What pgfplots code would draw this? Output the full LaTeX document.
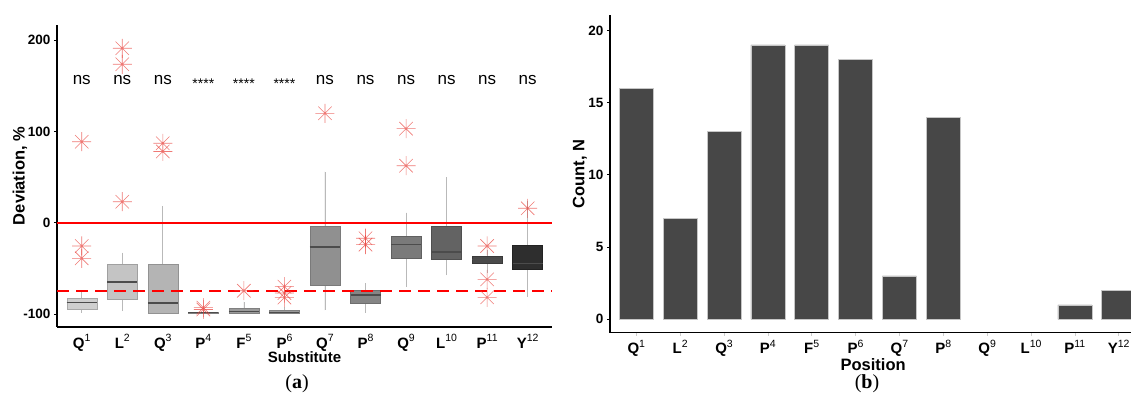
\documentclass[border=0pt]{standalone}
\usepackage{pgfplots}
\pgfplotsset{compat=1.18}
\usepgfplotslibrary{statistics}
\usepackage{fontspec}
\setmainfont{Liberation Sans}
\newfontfamily\capfont{Liberation Serif}

\definecolor{f1}{HTML}{CFCFCF}\definecolor{d1}{HTML}{A8A8A8}
\definecolor{f2}{HTML}{C4C4C4}\definecolor{d2}{HTML}{A0A0A0}
\definecolor{f3}{HTML}{B4B4B4}\definecolor{d3}{HTML}{929292}
\definecolor{f4}{HTML}{9A9A9A}\definecolor{d4}{HTML}{808080}
\definecolor{f7}{HTML}{909090}\definecolor{d7}{HTML}{7A7A7A}
\definecolor{f8}{HTML}{858585}\definecolor{d8}{HTML}{6E6E6E}
\definecolor{f9}{HTML}{7A7A7A}\definecolor{d9}{HTML}{606060}
\definecolor{f10}{HTML}{636363}\definecolor{d10}{HTML}{4F4F4F}
\definecolor{f11}{HTML}{4A4A4A}\definecolor{d11}{HTML}{3A3A3A}
\definecolor{f12}{HTML}{2E2E2E}\definecolor{d12}{HTML}{222222}
\definecolor{barc}{HTML}{474747}
\definecolor{outc}{HTML}{E8403A}

\pgfdeclareplotmark{ast8}{%
\pgfpathmoveto{\pgfqpoint{-\pgfplotmarksize}{0pt}}%
\pgfpathlineto{\pgfqpoint{\pgfplotmarksize}{0pt}}%
\pgfpathmoveto{\pgfqpoint{0pt}{-\pgfplotmarksize}}%
\pgfpathlineto{\pgfqpoint{0pt}{\pgfplotmarksize}}%
\pgfpathmoveto{\pgfqpoint{-.707\pgfplotmarksize}{-.707\pgfplotmarksize}}%
\pgfpathlineto{\pgfqpoint{.707\pgfplotmarksize}{.707\pgfplotmarksize}}%
\pgfpathmoveto{\pgfqpoint{-.707\pgfplotmarksize}{.707\pgfplotmarksize}}%
\pgfpathlineto{\pgfqpoint{.707\pgfplotmarksize}{-.707\pgfplotmarksize}}%
\pgfusepathqstroke}

\newcommand{\lab}[2]{\textbf{#1}\raisebox{0.42em}{\mdseries\fontsize{10.5}{10.5}\selectfont #2}}
\newcommand{\nsfont}{\fontsize{17}{17}\selectfont}
\newcommand{\stfont}{\fontsize{14}{14}\selectfont}

\pgfplotsset{
  common/.style={
    scale only axis, anchor=south west,
    axis x line*=bottom, axis y line*=left,
    axis line style={line width=1.6pt, black},
    tick align=outside,
    major tick length=3pt,
    ytick style={black, line width=0.8pt},
    xtick={1,...,12},
    xticklabels={\lab{Q}{1},\lab{L}{2},\lab{Q}{3},\lab{P}{4},\lab{F}{5},\lab{P}{6},\lab{Q}{7},\lab{P}{8},\lab{Q}{9},\lab{L}{10},\lab{P}{11},\lab{Y}{12}},
    /pgf/number format/assume math mode=true,
    ticklabel style={font=\bfseries\fontsize{13.5}{16}\selectfont},
    xticklabel style={font=\bfseries\fontsize{15}{16}\selectfont, yshift=-1pt},
    ylabel style={font=\bfseries\fontsize{16.5}{18}\selectfont},
  },
  outl/.style={mark=ast8, mark size=9.5pt, mark options={draw=outc, line width=0.6pt, opacity=0.7, solid}},
}

\begin{document}
\begin{tikzpicture}
% ---------------- (a) ----------------
\begin{axis}[common,
  at={(57pt,76pt)}, width=495pt, height=302pt,
  xmin=0.39, xmax=12.6, ymin=-114.2, ymax=216.5,
  ytick={-100,0,100,200},
  xtick style={draw=none},
  xlabel={Substitute}, ylabel={Deviation, \%},
  xlabel style={font=\bfseries\fontsize{15}{16}\selectfont, at={(axis description cs:0.5,-0.1)}, anchor=center},
  ylabel style={at={(axis description cs:-0.075,0.5)}, anchor=center},
  boxplot/draw direction=y,
  boxplot/every whisker/.style={draw=gray!55, line width=0.7pt},
  boxplot/every median/.style={draw=black!70, line width=1.3pt},
]
\addplot[boxplot prepared={lower whisker=-98.6, lower quartile=-94.9, median=-87.5, upper quartile=-82.8, upper whisker=-75.6, draw position=1, box extend=0.74, whisker extend=0}, draw=d1, fill=f1, outl]
  table[row sep=\\, y index=0] {data\\ 88.7\\ -25.5\\ -39\\};
\addplot[boxplot prepared={lower whisker=-96.7, lower quartile=-83.9, median=-65, upper quartile=-45.2, upper whisker=-32.8, draw position=2, box extend=0.74, whisker extend=0}, draw=d2, fill=f2, outl]
  table[row sep=\\, y index=0] {data\\ 191\\ 173.5\\ 23\\};
\addplot[boxplot prepared={lower whisker=-99.5, lower quartile=-99.3, median=-88, upper quartile=-45.2, upper whisker=18.3, draw position=3, box extend=0.74, whisker extend=0}, draw=d3, fill=f3, outl]
  table[row sep=\\, y index=0] {data\\ 87\\ 78\\};
\addplot[boxplot prepared={lower whisker=-99.5, lower quartile=-99.3, median=-98.5, upper quartile=-97.5, upper whisker=-96.5, draw position=4, box extend=0.74, whisker extend=0}, draw=d4, fill=f4, outl]
  table[row sep=\\, y index=0] {data\\ -93\\ -95\\};
\addplot[boxplot prepared={lower whisker=-99.5, lower quartile=-99.3, median=-97.5, upper quartile=-93.8, upper whisker=-86.5, draw position=5, box extend=0.74, whisker extend=0}, draw=d4, fill=f4, outl]
  table[row sep=\\, y index=0] {data\\ -74.5\\};
\addplot[boxplot prepared={lower whisker=-99.5, lower quartile=-99.3, median=-98, upper quartile=-96, upper whisker=-92.7, draw position=6, box extend=0.74, whisker extend=0}, draw=d4, fill=f4, outl]
  table[row sep=\\, y index=0] {data\\ -70\\ -77\\ -82\\};
\addplot[boxplot prepared={lower whisker=-95.6, lower quartile=-67.9, median=-26.6, upper quartile=-3.6, upper whisker=55.9, draw position=7, box extend=0.74, whisker extend=0}, draw=d7, fill=f7, outl]
  table[row sep=\\, y index=0] {data\\ 119.8\\};
\addplot[boxplot prepared={lower whisker=-98.6, lower quartile=-87.6, median=-79.2, upper quartile=-73.7, upper whisker=-66.4, draw position=8, box extend=0.74, whisker extend=0}, draw=d8, fill=f8, outl]
  table[row sep=\\, y index=0] {data\\ -17\\ -24\\};
\addplot[boxplot prepared={lower whisker=-70, lower quartile=-39, median=-23.7, upper quartile=-15.3, upper whisker=11, draw position=9, box extend=0.74, whisker extend=0}, draw=d9, fill=f9, outl]
  table[row sep=\\, y index=0] {data\\ 103\\ 62.4\\};
\addplot[boxplot prepared={lower whisker=-57.3, lower quartile=-40, median=-32, upper quartile=-3.6, upper whisker=49.7, draw position=10, box extend=0.74, whisker extend=0}, draw=d10, fill=f10, outl]
  coordinates {};
\addplot[boxplot prepared={lower whisker=-55, lower quartile=-43.8, median=-40.5, upper quartile=-36.5, upper whisker=-30, draw position=11, box extend=0.74, whisker extend=0}, draw=d11, fill=f11, outl]
  table[row sep=\\, y index=0] {data\\ -25.5\\ -62\\ -81.7\\};
\addplot[boxplot prepared={lower whisker=-81, lower quartile=-50.7, median=-45, upper quartile=-24.4, upper whisker=24, draw position=12, box extend=0.74, whisker extend=0}, draw=d12, fill=f12, outl]
  table[row sep=\\, y index=0] {data\\ 15.8\\};

\addplot[red, line width=1.8pt, forget plot] coordinates {(0.39,0) (12.6,0)};
\addplot[red, line width=2.6pt, dash pattern=on 12pt off 7pt, forget plot] coordinates {(0.39,-75) (12.6,-75)};

\node[font=\nsfont] at (axis cs:1,156) {ns};
\node[font=\nsfont] at (axis cs:2,156) {ns};
\node[font=\nsfont] at (axis cs:3,156) {ns};
\node[font=\stfont] at (axis cs:4,152) {****};
\node[font=\stfont] at (axis cs:5,152) {****};
\node[font=\stfont] at (axis cs:6,152) {****};
\node[font=\nsfont] at (axis cs:7,156) {ns};
\node[font=\nsfont] at (axis cs:8,156) {ns};
\node[font=\nsfont] at (axis cs:9,156) {ns};
\node[font=\nsfont] at (axis cs:10,156) {ns};
\node[font=\nsfont] at (axis cs:11,156) {ns};
\node[font=\nsfont] at (axis cs:12,156) {ns};
\end{axis}

% ---------------- (b) ----------------
\begin{axis}[common,
  at={(610pt,70.3pt)}, width=521pt, height=317.7pt,
  xmin=0.4, xmax=12.28, ymin=-0.93, ymax=21.07,
  ytick={0,5,10,15,20},
  xtick style={draw=gray!40, line width=0.6pt},
  xlabel={Position}, ylabel={Count, N},
  xlabel style={font=\bfseries\fontsize{16.5}{18}\selectfont, at={(axis description cs:0.505,-0.1)}, anchor=center},
  ylabel style={at={(axis description cs:-0.058,0.5)}, anchor=center},
  ybar, bar width=34pt,
]
\addplot[fill=barc, draw=gray!45, line width=0.6pt]
  coordinates {(1,16) (2,7) (3,13) (4,19) (5,19) (6,18) (7,3) (8,14) (11,1) (12,2)};
\end{axis}

\node[font=\capfont\fontsize{20}{20}\selectfont] at (297pt,19pt) {({\bfseries a})};
\node[font=\capfont\fontsize{20}{20}\selectfont] at (867pt,19pt) {({\bfseries b})};

\pgfresetboundingbox
\path[use as bounding box] (0pt,0pt) rectangle (1131pt,403pt);
\end{tikzpicture}
\end{document}
